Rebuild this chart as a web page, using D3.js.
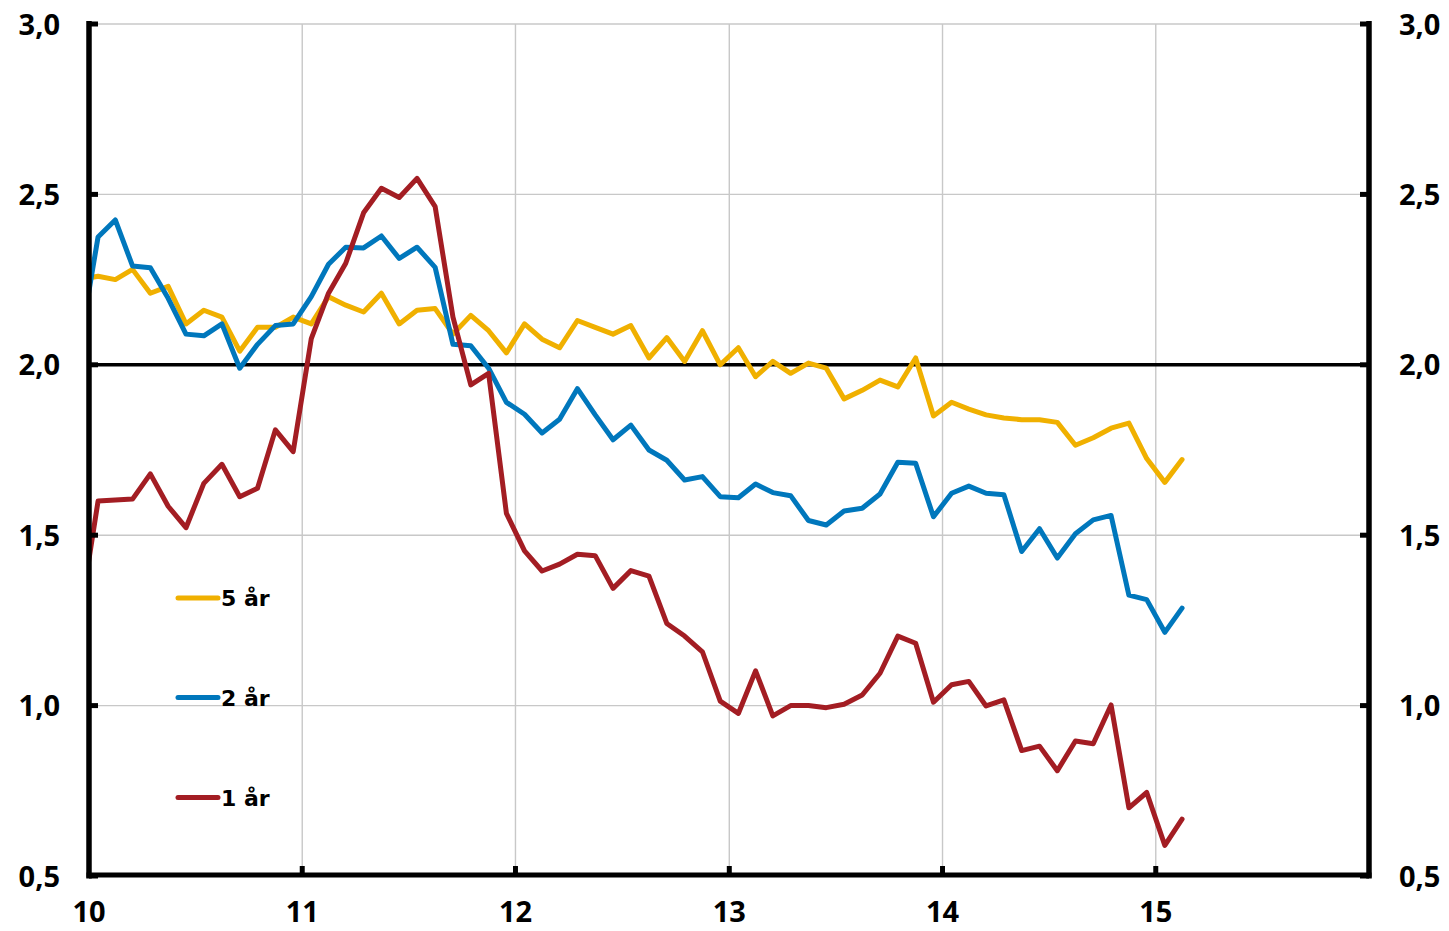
<!DOCTYPE html>
<html>
<head>
<meta charset="utf-8">
<script src="https://cdn.jsdelivr.net/npm/d3@7"></script>
<style>
  html, body { margin: 0; padding: 0; background: #fff; }
  svg { display: block; }
</style>
</head>
<body>
<svg id="chart" width="1449" height="931"></svg>
<script>
// ---- DATA (monthly, Dec 2009 – Feb 2015; Dec 2009 is clipped at the left axis) ----
const firstMonth = new Date(2009, 11, 1);
const lastMonth = new Date(2015, 1, 1);

const seriesNames = ["5 år", "2 år", "1 år"];

const fiveYear = [
  2.25, 2.26, 2.25, 2.28, 2.21, 2.23, 2.12, 2.16, 2.14, 2.04, 2.11, 2.11, 2.14,
  2.12, 2.20, 2.175, 2.155, 2.21, 2.12, 2.16, 2.165, 2.09, 2.145, 2.10, 2.035,
  2.12, 2.075, 2.05, 2.13, 2.11, 2.09, 2.115, 2.02, 2.08, 2.01, 2.10, 2.00,
  2.05, 1.965, 2.01, 1.975, 2.005, 1.99, 1.90, 1.925, 1.955, 1.935, 2.02, 1.85,
  1.89, 1.87, 1.853, 1.844, 1.839, 1.839, 1.831, 1.764, 1.786, 1.814, 1.829, 1.725,
  1.655, 1.722
];

const twoYear = [
  2.06, 2.375, 2.425, 2.29, 2.285, 2.195, 2.09, 2.085, 2.12, 1.99, 2.06, 2.115, 2.12,
  2.20, 2.295, 2.345, 2.343, 2.378, 2.312, 2.345, 2.286, 2.06, 2.056, 1.99, 1.89,
  1.855, 1.80, 1.84, 1.93, 1.853, 1.78, 1.823, 1.75, 1.72, 1.662, 1.672, 1.613,
  1.61, 1.65, 1.625, 1.616, 1.543, 1.53, 1.571, 1.579, 1.621, 1.714, 1.711, 1.554,
  1.623, 1.644, 1.623, 1.619, 1.452, 1.519, 1.433, 1.504, 1.545, 1.558, 1.324, 1.311,
  1.215, 1.286
];

const oneYear = [
  1.26, 1.60, 1.603, 1.606, 1.68, 1.585, 1.522, 1.652, 1.708, 1.613, 1.638, 1.809, 1.745,
  2.077, 2.21, 2.298, 2.446, 2.518, 2.491, 2.547, 2.464, 2.14, 1.941, 1.975, 1.564,
  1.454, 1.395, 1.415, 1.444, 1.44, 1.344, 1.396, 1.38, 1.241, 1.204, 1.158, 1.013,
  0.977, 1.102, 0.97, 1.0, 1.0, 0.994, 1.004, 1.031, 1.095, 1.204, 1.183, 1.01,
  1.061, 1.071, 0.999, 1.017, 0.868, 0.881, 0.809, 0.896, 0.888, 1.002, 0.700, 0.745,
  0.59, 0.667
];

const xTickYears = [2010, 2011, 2012, 2013, 2014, 2015, 2016];
const xTickLabels = ["10", "11", "12", "13", "14", "15", ""];
const yTicks = [0.5, 1.0, 1.5, 2.0, 2.5, 3.0];
const refLine = 2.0;

// ---- STYLE / LAYOUT ----
const colors = ["#F0B000", "#0077BC", "#A31D23"];
const W = 1449, H = 931;
const pL = 89, pR = 1369, pT = 24, pB = 876;
const axisFont = "'Open Sans', 'Liberation Sans', sans-serif";
const legendFont = "'DejaVu Sans', Verdana, sans-serif";

const svg = d3.select("#chart");

const months = d3.timeMonth.range(firstMonth, d3.timeMonth.offset(lastMonth, 1));
const midDates = months.map(m => new Date((m.getTime() + d3.timeMonth.offset(m, 1).getTime()) / 2));

const x = d3.scaleTime()
  .domain([new Date(2010, 0, 1), new Date(2016, 0, 1)])
  .range([pL, pR]);
const y = d3.scaleLinear().domain([0.5, 3.0]).range([pB, pT]);

const locale = d3.formatLocale({ decimal: ",", thousands: " ", grouping: [3], currency: ["", ""] });
const fmt = locale.format(".1f");

// gridlines
const grid = svg.append("g").attr("stroke", "#c8c8c8").attr("stroke-width", 1.4);
grid.selectAll("line.h").data(yTicks.filter(v => v !== 0.5 && v !== refLine)).join("line")
  .attr("x1", pL).attr("x2", pR)
  .attr("y1", d => y(d)).attr("y2", d => y(d));
grid.selectAll("line.v").data(xTickYears.slice(1, -1)).join("line")
  .attr("x1", d => x(new Date(d, 0, 1))).attr("x2", d => x(new Date(d, 0, 1)))
  .attr("y1", pT).attr("y2", pB);

// reference line at 2.0
svg.append("line")
  .attr("x1", pL).attr("x2", pR)
  .attr("y1", y(refLine)).attr("y2", y(refLine))
  .attr("stroke", "#000").attr("stroke-width", 3.5);

// clip
svg.append("defs").append("clipPath").attr("id", "plotclip")
  .append("rect").attr("x", pL).attr("y", 0).attr("width", pR - pL).attr("height", H);

const line = d3.line()
  .x((d, i) => x(midDates[i]))
  .y(d => y(d));

const allSeries = [fiveYear, twoYear, oneYear];
const plot = svg.append("g").attr("clip-path", "url(#plotclip)");
plot.selectAll("path").data(allSeries).join("path")
  .attr("d", d => line(d))
  .attr("fill", "none")
  .attr("stroke", (d, i) => colors[i])
  .attr("stroke-width", 5)
  .attr("stroke-linejoin", "round")
  .attr("stroke-linecap", "round");

// axes (thick black lines, inward ticks)
const axes = svg.append("g").attr("stroke", "#000");
axes.append("line").attr("x1", pL).attr("x2", pL).attr("y1", pT - 3).attr("y2", pB + 2.5).attr("stroke-width", 5.5);
axes.append("line").attr("x1", pR).attr("x2", pR).attr("y1", pT - 3).attr("y2", pB + 2.5).attr("stroke-width", 5.5);
axes.append("line").attr("x1", pL - 2.5).attr("x2", pR + 2.5).attr("y1", pB - 1).attr("y2", pB - 1).attr("stroke-width", 5);

axes.selectAll("line.lt").data(yTicks).join("line")
  .attr("x1", pL).attr("x2", pL + 9)
  .attr("y1", d => y(d)).attr("y2", d => y(d)).attr("stroke-width", 5);
axes.selectAll("line.rt").data(yTicks).join("line")
  .attr("x1", pR - 9).attr("x2", pR)
  .attr("y1", d => y(d)).attr("y2", d => y(d)).attr("stroke-width", 5);
axes.selectAll("line.xt").data(xTickYears.slice(1, -1)).join("line")
  .attr("x1", d => x(new Date(d, 0, 1))).attr("x2", d => x(new Date(d, 0, 1)))
  .attr("y1", pB - 10).attr("y2", pB).attr("stroke-width", 5);

// labels
const labels = svg.append("g").attr("font-family", axisFont).attr("font-weight", "bold")
  .attr("font-size", 29).attr("fill", "#000");
labels.selectAll("text.yl").data(yTicks).join("text")
  .attr("x", 60).attr("y", d => y(d) + 10.5).attr("text-anchor", "end").text(d => fmt(d));
labels.selectAll("text.yr").data(yTicks).join("text")
  .attr("x", 1399).attr("y", d => y(d) + 10.5).attr("text-anchor", "start").text(d => fmt(d));
labels.selectAll("text.xl").data(xTickYears.map((d, i) => [d, xTickLabels[i]]).filter(d => d[1] !== "")).join("text")
  .attr("x", d => x(new Date(d[0], 0, 1))).attr("y", 922).attr("text-anchor", "middle").text(d => d[1]);

// legend
const legendY = [598, 697.5, 797.5];
const legend = svg.append("g");
seriesNames.forEach((name, i) => {
  legend.append("line")
    .attr("x1", 178).attr("x2", 218)
    .attr("y1", legendY[i]).attr("y2", legendY[i])
    .attr("stroke", colors[i]).attr("stroke-width", 5).attr("stroke-linecap", "round");
  legend.append("text")
    .attr("x", 221).attr("y", legendY[i] + 8)
    .attr("font-family", legendFont).attr("font-weight", "bold").attr("font-size", 22)
    .attr("fill", "#000").text(name);
});
</script>
</body>
</html>
